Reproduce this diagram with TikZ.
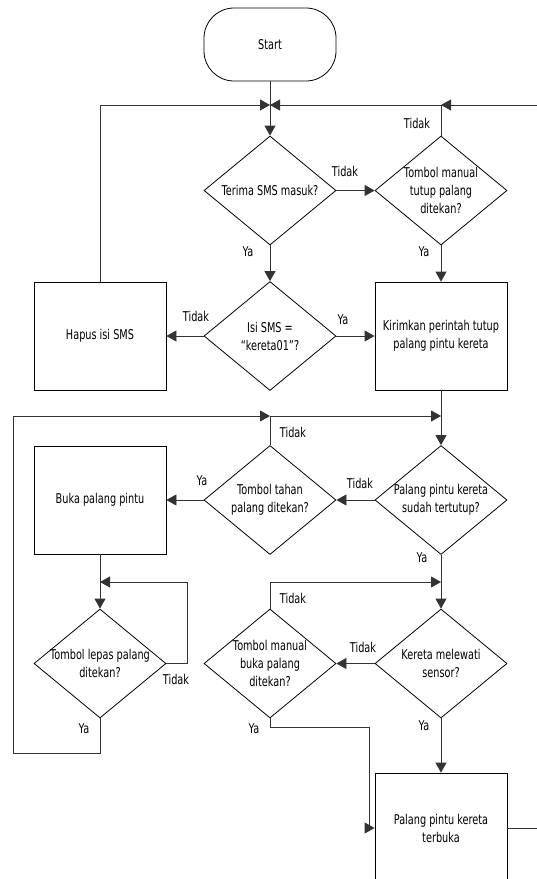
\documentclass[tikz,border=0pt]{standalone}
\usepackage{fontspec}
\setmainfont{DejaVu Sans}[FakeStretch=0.72]
\usetikzlibrary{arrows.meta,shapes.geometric}
\tikzset{
	line/.style={draw=black!80, line width=0.8pt},
	arr/.style={line, -{Triangle[length=10pt,width=11pt]}},
	box/.style={draw, line width=0.8pt, minimum width=132pt, minimum height=108pt, align=center, inner sep=0pt},
	term/.style={box, minimum height=73pt, rounded corners=30pt},
	decision/.style={diamond, draw, line width=0.8pt, minimum width=132pt, minimum height=109pt, inner sep=0pt},
	dtext/.style={align=center, inner sep=0pt},
	yn/.style={inner sep=0pt}
}

\begin{document}
\begin{tikzpicture}[x=1pt, y=-1pt, every node/.style={font=\fontsize{13.5}{18}\selectfont}]
			%%%%% START %%%%%
			\clip (0, 0) rectangle (537, 879);
			
			\node[term] (start) at (270, 44.5) {Start};
			
			\node[decision, label={[dtext]center:{Terima SMS masuk?}}] (d1) at (270, 190.5) {};
			\node[decision, label={[dtext]center:{Tombol manual\\tutup palang\\ditekan?}}] (d2) at (441, 190.5) {};
			\node[decision, label={[dtext]center:{Isi SMS =\\``kereta01''?}}] (d3) at (270, 336) {};
			\node[box] (hapus) at (100, 336) {Hapus isi SMS};
			\node[box] (kirim) at (441, 336) {Kirimkan perintah tutup\\palang pintu kereta};
			
			\node[decision, label={[dtext]center:{Palang pintu kereta\\sudah tertutup?}}] (d4) at (441, 500) {};
			\node[decision, label={[dtext]center:{Tombol tahan\\palang ditekan?}}] (d5) at (270, 500) {};
			\node[box] (buka) at (100, 500) {Buka palang pintu};
			
			\node[decision, label={[dtext]center:{Tombol lepas palang\\ditekan?}}] (d7) at (100, 663.5) {};
			\node[decision, label={[dtext]center:{Tombol manual\\buka palang\\ditekan?}}] (d8) at (270, 663.5) {};
			\node[decision, label={[dtext]center:{Kereta melewati\\sensor?}}] (d6) at (441, 663.5) {};
			\node[box, minimum height=110pt] (terbuka) at (441, 828) {Palang pintu kereta\\terbuka};
			
			% junctions
			\coordinate (jtop) at (270, 105);
			\coordinate (jr) at (441, 105);
			\coordinate (redge) at (537, 105);
			\coordinate (jm) at (441, 416);
			\coordinate (jl) at (270, 416);
			\coordinate (lb) at (13, 753);
			\coordinate (jb) at (100, 582);
			\coordinate (rb) at (187, 582);
			\coordinate (js) at (441, 582);
			\coordinate (db) at (369, 727);
			\coordinate (rbot) at (537, 828);
			
			\draw[arr] (start) -- (d1);
			\draw[arr] (hapus.north) |- (jtop);
			\draw[arr] (redge) -- (jr);
			\draw[arr] (jr) -- (jtop);
			\draw[line] (d2.north) -- (jr);
			\draw[arr] (d1.east) -- (d2.west);
			\draw[arr] (d1.south) -- (d3.north);
			\draw[arr] (d2.south) -- (kirim.north);
			\draw[arr] (d3.west) -- (hapus.east);
			\draw[arr] (d3.east) -- (kirim.west);
			
			\draw[line] (kirim.south) -- (jm);
			\draw[arr] (jm) -- (d4.north);
			\draw[arr] (jl) -- (jm);
			\draw[line] (d5.north) -- (jl);
			\draw[arr] (d7.south) |- (lb) |- (jl);
			\draw[arr] (d4.west) -- (d5.east);
			\draw[arr] (d5.west) -- (buka.east);
			
			\draw[line] (buka.south) -- (jb);
			\draw[arr] (jb) -- (d7.north);
			\draw[arr] (d7.east) -| (rb) -- (jb);
			\draw[line] (d4.south) -- (js);
			\draw[arr] (js) -- (d6.north);
			\draw[arr] (d8.north) |- (js);
			\draw[arr] (d6.west) -- (d8.east);
			\draw[arr] (d6.south) -- (terbuka.north);
			\draw[arr] (d8.south) |- (db) |- (terbuka.west);
			\draw[line] (terbuka.east) -- (rbot);
			
			% labels
			\node[yn] (t1) at (345, 171) {Tidak};
			\node[yn] (t2) at (417, 123) {Tidak};
			\node[yn] (y1) at (248, 252) {Ya};
			\node[yn] (y2) at (424, 252) {Ya};
			\node[yn] (t3) at (196, 316) {Tidak};
			\node[yn] (y3) at (343, 320) {Ya};
			\node[yn] (t4) at (293, 432) {Tidak};
			\node[yn] (t5) at (360, 483) {Tidak};
			\node[yn] (y4) at (202, 481) {Ya};
			\node[yn] (y5) at (422, 558) {Ya};
			\node[yn] (t6) at (293, 598) {Tidak};
			\node[yn] (t7) at (363, 647) {Tidak};
			\node[yn] (t8) at (176, 679) {Tidak};
			\node[yn] (y6) at (84, 729) {Ya};
			\node[yn] (y7) at (254, 729) {Ya};
			\node[yn] (y8) at (424, 726) {Ya};
			
			%%%%% END %%%%%
\end{tikzpicture}
\end{document}
